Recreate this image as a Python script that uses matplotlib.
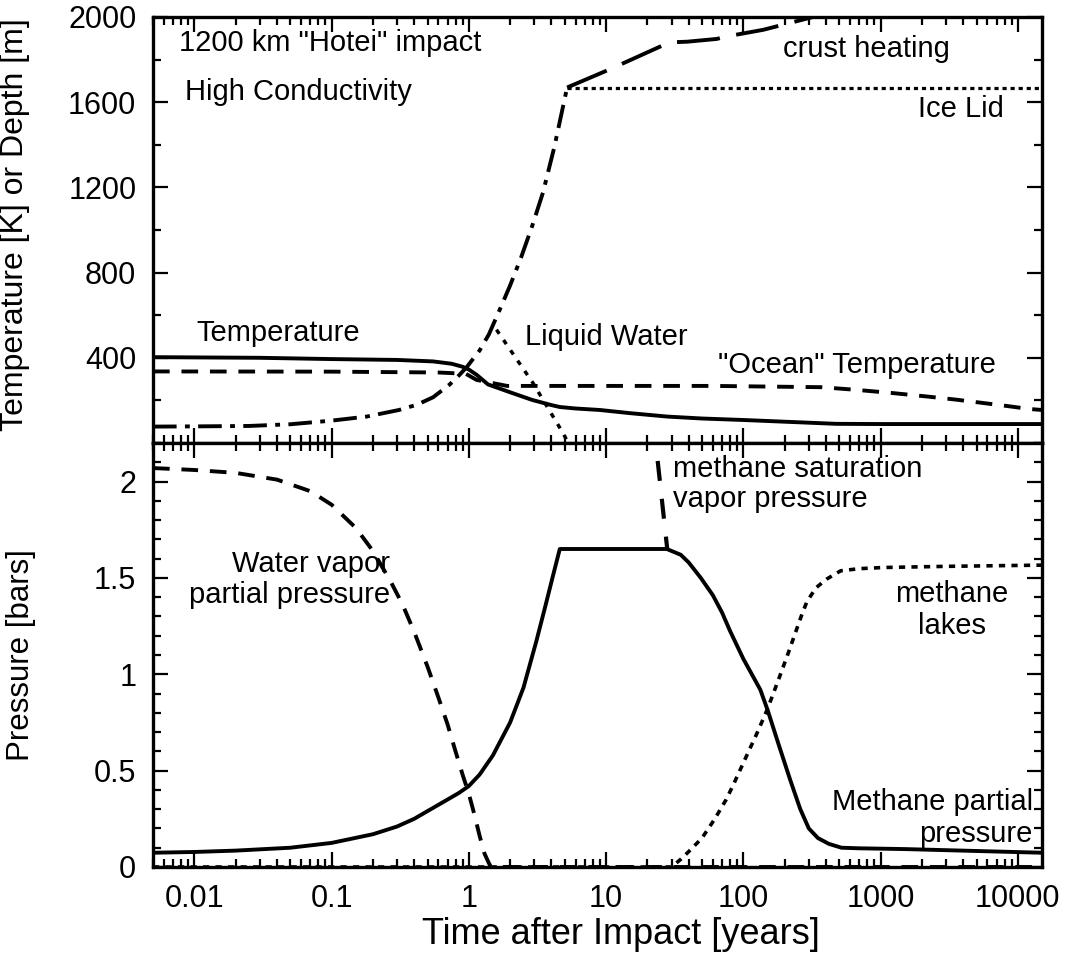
import matplotlib
matplotlib.use('Agg')
import matplotlib.pyplot as plt
from matplotlib.ticker import LogLocator, NullFormatter, MultipleLocator, FixedLocator

plt.rcParams['font.family'] = ['Liberation Sans', 'DejaVu Sans']
plt.rcParams['lines.scale_dashes'] = False

# ---------------- data ----------------
# Top panel: temperatures [K] and depths [m]
temp_t = [0.005, 0.03, 0.1, 0.3, 0.55, 0.75, 0.9, 1.0, 1.14, 1.38, 2.0, 2.9, 4.0, 4.6, 6.0, 9.0,
          15, 28, 50, 100, 200, 475, 1000, 15000]
temp_v = [403, 400, 394, 390, 383, 372, 358, 345, 320, 275, 238, 202, 178, 169, 162, 155,
          140, 124, 115, 108, 100, 90, 89, 89]

ocean_t = [0.005, 0.1, 0.6, 0.95, 1.14, 1.9, 60, 370, 680, 1200, 2200, 3500, 5560, 8500, 12000, 15000]
ocean_v = [336, 335, 331, 325, 296, 268, 268, 262, 249, 235, 218, 204, 188, 173, 160, 155]

crust_t = [0.005, 0.01, 0.025, 0.05, 0.1, 0.18, 0.31, 0.42, 0.55, 0.726, 0.85, 0.97,
           1.2, 1.4, 1.68, 2.0, 2.4, 2.9, 3.47, 4.2, 5.2]
crust_v = [77, 78, 80, 88, 105, 124, 155, 180, 215, 275, 318, 358,
           435, 510, 626, 740, 870, 1020, 1176, 1390, 1669]

heat_t = [5.2, 10.7, 29, 39, 64, 76, 140, 345]
heat_v = [1669, 1755, 1881, 1884, 1897, 1909, 1940, 2005]

lid_t = [5.2, 15000]
lid_v = [1665, 1665]

liquid_t = [1.59, 2.93, 4.85, 5.3]
liquid_v = [532, 282, 47, 0]

# Bottom panel: pressures [bars]
wv_t = [0.005, 0.01, 0.02, 0.04, 0.07, 0.1, 0.15, 0.2, 0.27, 0.33, 0.4, 0.5, 0.6, 0.7,
        0.8, 0.9, 1.0, 1.1, 1.2, 1.3, 1.4, 1.45, 15000]
wv_v = [2.07, 2.06, 2.045, 2.01, 1.95, 1.88, 1.76, 1.64, 1.48, 1.36, 1.22, 1.04, 0.88, 0.74,
        0.6, 0.48, 0.38, 0.27, 0.16, 0.07, 0.02, 0.0, 0.0]

mp_t = [0.005, 0.01, 0.02, 0.05, 0.1, 0.2, 0.3, 0.4, 0.5, 0.7, 0.85, 1.0, 1.2, 1.5, 2.0, 2.5,
        3.1, 3.6, 4.1, 4.6, 27.7, 35, 40, 49, 60, 70, 80, 100, 133, 151, 180, 220, 260, 300,
        350, 420, 519, 700, 1500, 15000]
mp_v = [0.074, 0.078, 0.085, 0.1, 0.125, 0.17, 0.21, 0.25, 0.29, 0.35, 0.385, 0.42, 0.48, 0.58,
        0.75, 0.93, 1.17, 1.35, 1.51, 1.65, 1.65, 1.62, 1.58, 1.50, 1.41, 1.32, 1.225, 1.08,
        0.92, 0.81, 0.64, 0.45, 0.30, 0.20, 0.15, 0.12, 0.10, 0.097, 0.093, 0.074]

sat_t = [23.0, 27.9]
sat_v = [2.2, 1.65]

lakes_t = [0.005, 30, 35, 40, 50, 62, 75, 85, 100, 125, 150, 180, 210, 245, 270, 292, 340,
           407, 513, 700, 1047, 3000, 13800, 15000]
lakes_v = [0, 0, 0.04, 0.08, 0.15, 0.25, 0.35, 0.43, 0.54, 0.69, 0.82, 0.97, 1.1, 1.235, 1.32,
           1.38, 1.45, 1.495, 1.537, 1.548, 1.554, 1.56, 1.566, 1.566]

xtick_vals = [0.01, 0.1, 1, 10, 100, 1000, 10000]
xtick_labels = ['0.01', '0.1', '1', '10', '100', '1000', '10000']
top_yticks = [400, 800, 1200, 1600, 2000]
top_ylabels = ['400', '800', '1200', '1600', '2000']
bot_yticks = [0, 0.5, 1, 1.5, 2]
bot_ylabels = ['0', '0.5', '1', '1.5', '2']

# ---------------- figure ----------------
fig = plt.figure(figsize=(10.72, 9.56), dpi=100)
L, W = 153 / 1072, 889 / 1072
ax1 = fig.add_axes([L, 1 - 443 / 956, W, 426 / 956])
ax2 = fig.add_axes([L, 1 - 867 / 956, W, 424 / 956])

LW = 2.8
FS_TICK = 22
FS_ANN = 21

for ax in (ax1, ax2):
    ax.set_xscale('log')
    ax.set_xlim(0.005, 15000)
    for s in ax.spines.values():
        s.set_linewidth(2.4)
    ax.xaxis.set_major_locator(FixedLocator(xtick_vals))
    ax.xaxis.set_minor_locator(LogLocator(base=10, subs=range(2, 10), numticks=20))
    ax.xaxis.set_minor_formatter(NullFormatter())
    ax.tick_params(which='both', direction='in', top=True, right=True,
                   labelsize=FS_TICK, width=1.6, pad=12)
    ax.tick_params(which='major', length=11)
    ax.tick_params(which='minor', length=6)

# top panel
ax1.plot(temp_t, temp_v, color='black', lw=LW, solid_joinstyle='round')
ax1.plot(ocean_t, ocean_v, color='black', lw=LW, dashes=(12, 8.5))
ax1.plot(crust_t, crust_v, color='black', lw=LW, dashes=(17, 6, 3.5, 6))
ax1.plot(heat_t, heat_v, color='black', lw=LW, dashes=(31, 12))
ax1.plot(lid_t, lid_v, color='black', lw=2.3, dashes=(3, 2.8))
ax1.plot(liquid_t, liquid_v, color='black', lw=2.5, dashes=(3.6, 5.4))

ax1.set_ylim(0, 2000)
ax1.set_yticks(top_yticks, top_ylabels)
ax1.yaxis.set_minor_locator(MultipleLocator(200))
ax1.set_xticks(xtick_vals, [''] * len(xtick_vals))
ax1.set_ylabel('Temperature [K] or Depth [m]', fontsize=23)
ax1.yaxis.set_label_coords(-0.138, 0.512)

ax1.text(0.00778, 1878, '1200 km "Hotei" impact', fontsize=FS_ANN, ha='left', va='center')
ax1.text(0.0086, 1647, 'High Conductivity', fontsize=FS_ANN, ha='left', va='center')
ax1.text(196, 1849, 'crust heating', fontsize=FS_ANN, ha='left', va='center')
ax1.text(7900, 1567, 'Ice Lid', fontsize=FS_ANN, ha='right', va='center')
ax1.text(0.01035, 518, 'Temperature', fontsize=FS_ANN, ha='left', va='center')
ax1.text(2.56, 499, 'Liquid Water', fontsize=FS_ANN, ha='left', va='center')
ax1.text(65.8, 367, '"Ocean" Temperature', fontsize=FS_ANN, ha='left', va='center')

# bottom panel
ax2.plot(wv_t, wv_v, color='black', lw=LW, dashes=(12, 8.5))
ax2.plot(lakes_t, lakes_v, color='black', lw=2.6, dashes=(4.5, 4.5))
ax2.plot(sat_t, sat_v, color='black', lw=3.0, linestyle=(14.4, (14.4, 13)))
ax2.plot(mp_t, mp_v, color='black', lw=LW, solid_joinstyle='round')

ax2.set_ylim(0, 2.2)
ax2.set_yticks(bot_yticks, bot_ylabels)
ax2.yaxis.set_minor_locator(MultipleLocator(0.1))
ax2.set_xticks(xtick_vals, xtick_labels)
ax2.set_ylabel('Pressure [bars]', fontsize=22.5)
ax2.yaxis.set_label_coords(-0.132, 0.5)
ax2.set_xlabel('Time after Impact [years]', fontsize=26)
ax2.xaxis.set_label_coords(0.526, -0.16)
ax2.xaxis.label.set_va('center')

ax2.text(30.8, 2.066, 'methane saturation', fontsize=FS_ANN, ha='left', va='center')
ax2.text(30.8, 1.91, 'vapor pressure', fontsize=FS_ANN, ha='left', va='center')
ax2.text(3296, 1.417, 'methane', fontsize=FS_ANN, ha='center', va='center')
ax2.text(3296, 1.251, 'lakes', fontsize=FS_ANN, ha='center', va='center')
ax2.text(0.265, 1.573, 'Water vapor', fontsize=FS_ANN, ha='right', va='center')
ax2.text(0.265, 1.412, 'partial pressure', fontsize=FS_ANN, ha='right', va='center')
ax2.text(12850, 0.337, 'Methane partial', fontsize=FS_ANN, ha='right', va='center')
ax2.text(12850, 0.171, 'pressure', fontsize=FS_ANN, ha='right', va='center')

fig.savefig('out.png', dpi=100)
